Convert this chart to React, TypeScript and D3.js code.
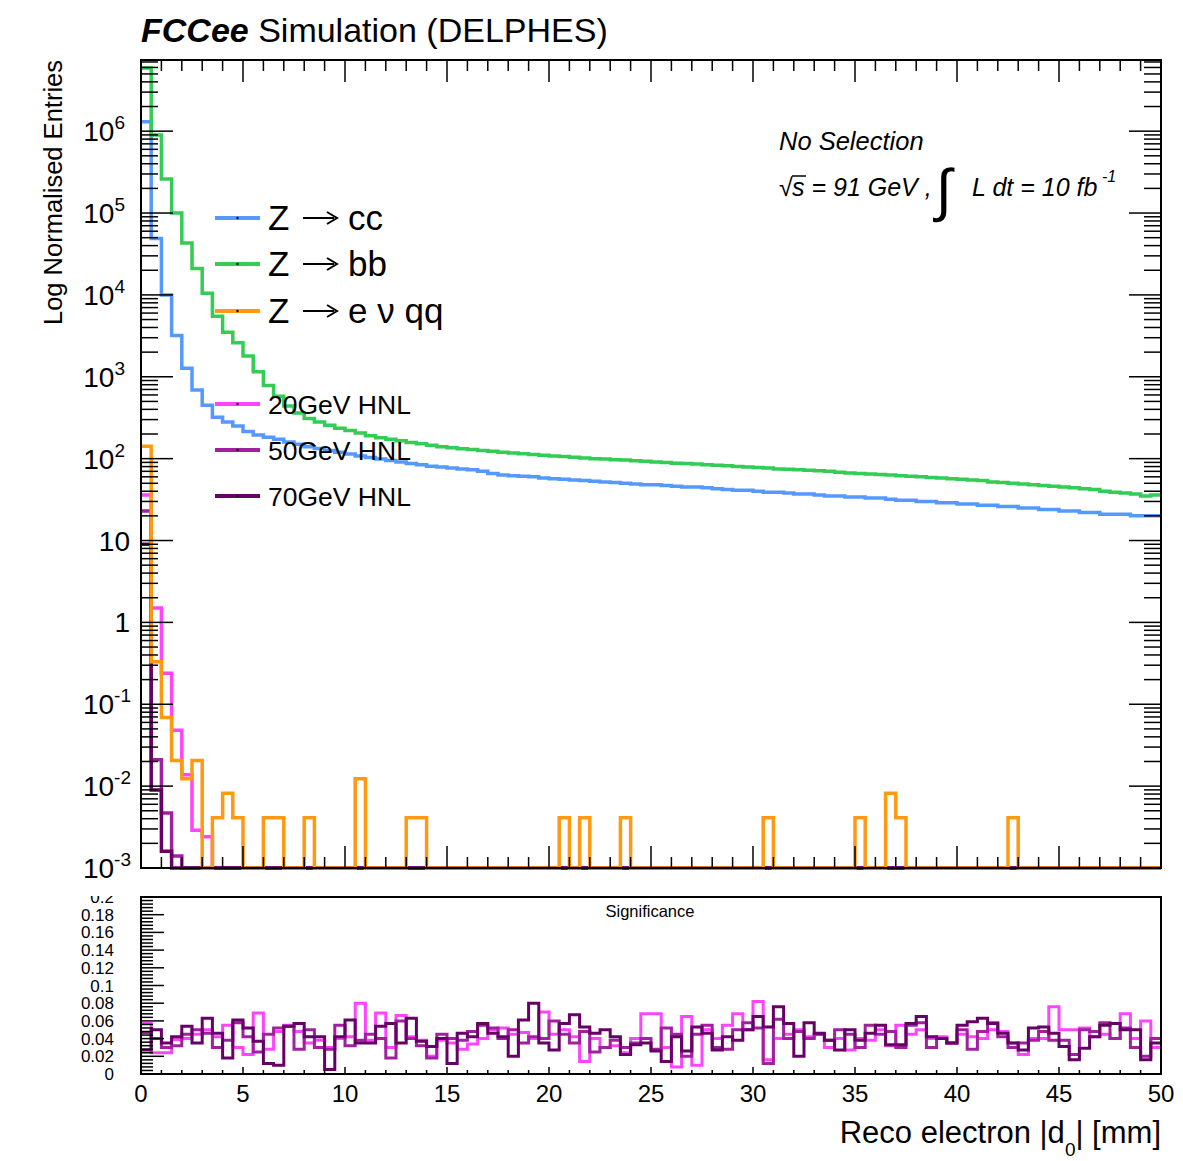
import React from "react";
import * as d3 from "d3";

// bin width 0.5 mm, 100 bins from 0 to 50 mm
const binWidth = 0.5;

const zcc = [
  1.3e6, 4.9e4, 1.0e4, 3200, 1270, 690, 450, 320, 280, 250,
  215, 195, 182, 172, 160, 150, 140, 133, 126, 120,
  114, 108, 103, 99, 95, 91, 87, 84, 81, 79,
  77, 75, 73, 70, 66, 63, 62, 61, 60, 58,
  57, 56, 55, 54, 53, 52, 51, 50, 49, 48,
  48, 47, 46, 45, 45, 44, 43, 42, 41, 41,
  40, 39, 39, 38, 37, 37, 36, 35, 35, 34,
  34, 33, 33, 32, 31, 31, 30, 30, 29, 29,
  28, 28, 27, 27, 26, 26, 25, 25, 24, 24,
  23, 23, 22, 22, 21, 21, 21, 20, 20, 20,
];

const zbb = [
  5.9e6, 9.0e5, 2.6e5, 1.0e5, 4.3e4, 2.1e4, 1.05e4, 5500, 3500, 2600,
  1800, 1150, 780, 580, 440, 360, 310, 280, 255, 235,
  220, 205, 190, 180, 172, 165, 158, 152, 146, 140,
  136, 132, 129, 126, 123, 120, 117, 115, 112, 110,
  108, 106, 104, 102, 100, 99, 97, 96, 94, 93,
  91, 90, 88, 87, 86, 84, 83, 82, 80, 79,
  78, 77, 75, 74, 73, 72, 71, 70, 68, 67,
  66, 65, 64, 63, 62, 61, 60, 59, 58, 57,
  56, 55, 54, 52, 51, 50, 49, 48, 47, 46,
  45, 44, 43, 42, 40, 39, 38, 37, 35, 36,
];

const zenuqq = [
  142, 0.33, 0.069, 0.0205, 0.0123, 0.0205, 0, 0.0041, 0.0082, 0.0041,
  0, 0, 0.0041, 0.0041, 0, 0, 0.0041, 0, 0, 0,
  0, 0.0123, 0, 0, 0, 0, 0.0041, 0.0041, 0, 0,
  0, 0, 0, 0, 0, 0, 0, 0, 0, 0,
  0, 0.0041, 0, 0.0041, 0, 0, 0, 0.0041, 0, 0,
  0, 0, 0, 0, 0, 0, 0, 0, 0, 0,
  0, 0.0041, 0, 0, 0, 0, 0, 0, 0, 0,
  0.0041, 0, 0, 0.0082, 0.0041, 0, 0, 0, 0, 0,
  0, 0, 0, 0, 0, 0.0041, 0, 0, 0, 0,
  0, 0, 0, 0, 0, 0, 0, 0, 0, 0,
];

const hnl20 = [
  36, 1.5, 0.24, 0.048, 0.0138, 0.0029, 0.0024, 0, 0, 0,
  0, 0, 0, 0, 0, 0, 0, 0, 0, 0,
  0, 0, 0, 0, 0, 0, 0, 0, 0, 0,
  0, 0, 0, 0, 0, 0, 0, 0, 0, 0,
  0, 0, 0, 0, 0, 0, 0, 0, 0, 0,
  0, 0, 0, 0, 0, 0, 0, 0, 0, 0,
  0, 0, 0, 0, 0, 0, 0, 0, 0, 0,
  0, 0, 0, 0, 0, 0, 0, 0, 0, 0,
  0, 0, 0, 0, 0, 0, 0, 0, 0, 0,
  0, 0, 0, 0, 0, 0, 0, 0, 0, 0,
];

const hnl50 = [
  23, 0.021, 0.0047, 0.0014, 0, 0, 0, 0, 0, 0,
  0, 0, 0, 0, 0, 0, 0, 0, 0, 0,
  0, 0, 0, 0, 0, 0, 0, 0, 0, 0,
  0, 0, 0, 0, 0, 0, 0, 0, 0, 0,
  0, 0, 0, 0, 0, 0, 0, 0, 0, 0,
  0, 0, 0, 0, 0, 0, 0, 0, 0, 0,
  0, 0, 0, 0, 0, 0, 0, 0, 0, 0,
  0, 0, 0, 0, 0, 0, 0, 0, 0, 0,
  0, 0, 0, 0, 0, 0, 0, 0, 0, 0,
  0, 0, 0, 0, 0, 0, 0, 0, 0, 0,
];

const hnl70 = [
  9, 0.009, 0.0016, 0, 0, 0, 0, 0, 0, 0,
  0, 0, 0, 0, 0, 0, 0, 0, 0, 0,
  0, 0, 0, 0, 0, 0, 0, 0, 0, 0,
  0, 0, 0, 0, 0, 0, 0, 0, 0, 0,
  0, 0, 0, 0, 0, 0, 0, 0, 0, 0,
  0, 0, 0, 0, 0, 0, 0, 0, 0, 0,
  0, 0, 0, 0, 0, 0, 0, 0, 0, 0,
  0, 0, 0, 0, 0, 0, 0, 0, 0, 0,
  0, 0, 0, 0, 0, 0, 0, 0, 0, 0,
  0, 0, 0, 0, 0, 0, 0, 0, 0, 0,
];

// significance (lower pad)
const sig20 = [
  0.057, 0.024, 0.024, 0.039, 0.040, 0.045, 0.050, 0.042, 0.055, 0.030,
  0.022, 0.069, 0.028, 0.048, 0.055, 0.048, 0.035, 0.038, 0.030, 0.040,
  0.042, 0.080, 0.038, 0.069, 0.030, 0.066, 0.042, 0.038, 0.020, 0.038,
  0.035, 0.028, 0.034, 0.040, 0.050, 0.052, 0.045, 0.047, 0.040, 0.070,
  0.045, 0.050, 0.042, 0.014, 0.040, 0.030, 0.032, 0.024, 0.040, 0.068,
  0.068, 0.030, 0.008, 0.065, 0.010, 0.050, 0.040, 0.055, 0.068, 0.050,
  0.082, 0.016, 0.040, 0.045, 0.050, 0.042, 0.045, 0.030, 0.040, 0.027,
  0.040, 0.038, 0.050, 0.032, 0.055, 0.045, 0.050, 0.040, 0.042, 0.035,
  0.045, 0.042, 0.040, 0.050, 0.048, 0.035, 0.022, 0.040, 0.040, 0.076,
  0.050, 0.050, 0.052, 0.042, 0.045, 0.040, 0.068, 0.040, 0.060, 0.030,
];

const sig50 = [
  0.047, 0.040, 0.030, 0.032, 0.045, 0.050, 0.046, 0.030, 0.038, 0.058,
  0.042, 0.025, 0.045, 0.052, 0.054, 0.028, 0.050, 0.030, 0.028, 0.055,
  0.032, 0.038, 0.045, 0.040, 0.018, 0.060, 0.040, 0.032, 0.018, 0.045,
  0.040, 0.038, 0.048, 0.055, 0.052, 0.040, 0.050, 0.035, 0.042, 0.040,
  0.060, 0.045, 0.035, 0.048, 0.025, 0.030, 0.038, 0.030, 0.035, 0.040,
  0.028, 0.052, 0.045, 0.020, 0.045, 0.055, 0.030, 0.028, 0.050, 0.058,
  0.052, 0.012, 0.062, 0.040, 0.048, 0.040, 0.045, 0.038, 0.050, 0.045,
  0.030, 0.055, 0.045, 0.048, 0.030, 0.055, 0.058, 0.030, 0.040, 0.035,
  0.050, 0.028, 0.048, 0.058, 0.042, 0.030, 0.035, 0.038, 0.048, 0.038,
  0.038, 0.022, 0.050, 0.048, 0.058, 0.040, 0.052, 0.030, 0.020, 0.040,
];

const sig70 = [
  0.027, 0.050, 0.035, 0.042, 0.054, 0.035, 0.063, 0.046, 0.018, 0.061,
  0.052, 0.037, 0.012, 0.010, 0.054, 0.057, 0.042, 0.042, 0.005, 0.042,
  0.061, 0.035, 0.035, 0.054, 0.057, 0.035, 0.063, 0.037, 0.031, 0.040,
  0.012, 0.046, 0.042, 0.057, 0.046, 0.042, 0.020, 0.061, 0.080, 0.035,
  0.027, 0.057, 0.067, 0.053, 0.046, 0.050, 0.042, 0.022, 0.033, 0.035,
  0.026, 0.014, 0.042, 0.026, 0.053, 0.046, 0.027, 0.042, 0.038, 0.050,
  0.065, 0.053, 0.076, 0.057, 0.020, 0.058, 0.046, 0.038, 0.027, 0.050,
  0.038, 0.046, 0.055, 0.033, 0.033, 0.057, 0.065, 0.042, 0.040, 0.035,
  0.055, 0.059, 0.063, 0.057, 0.046, 0.035, 0.027, 0.052, 0.053, 0.046,
  0.031, 0.016, 0.029, 0.042, 0.055, 0.057, 0.050, 0.050, 0.016, 0.035,
];

const xTicks = [0, 5, 10, 15, 20, 25, 30, 35, 40, 45, 50];
const decades = [-3, -2, -1, 0, 1, 2, 3, 4, 5, 6];
const sigTicks = [0, 0.02, 0.04, 0.06, 0.08, 0.1, 0.12, 0.14, 0.16, 0.18, 0.2];

const colors = {
  cc: "#5599ff",
  bb: "#33cc55",
  enuqq: "#ff9911",
  h20: "#ff44ff",
  h50: "#a020a0",
  h70: "#660066",
};

const font = "'Liberation Sans', Arial, Helvetica, sans-serif";

const L = 141, R = 1161;
const mainTop = 60, mainBot = 868;
const botTop = 897, botBot = 1074;

const x = d3.scaleLinear().domain([0, 50]).range([L, R]);
const yMain = d3.scaleLog().domain([1e-3, 7.4e6]).range([mainBot, mainTop]).clamp(true);
const yBot = d3.scaleLinear().domain([0, 0.2]).range([botBot, botTop]);

function stepPath(vals: number[], y: (v: number) => number) {
  let d = `M${x(0)},${y(vals[0])}`;
  vals.forEach((v, i) => {
    if (i > 0) d += `V${y(v)}`;
    d += `H${x((i + 1) * binWidth)}`;
  });
  return d;
}

const yLog = (v: number) => yMain(Math.max(v, 1e-3));

export default function App() {
  const minorX: number[] = [];
  for (let i = 0; i <= 50; i++) if (i % 5 !== 0) minorX.push(i);

  const minorLog: number[] = [];
  decades.forEach((k) => {
    for (let m = 2; m <= 9; m++) {
      const v = m * Math.pow(10, k);
      if (v <= 7.4e6) minorLog.push(v);
    }
  });

  const sigMinor: number[] = [];
  for (let i = 0; i < 50; i++) if (i % 5 !== 0) sigMinor.push(i * 0.004);

  const mainSeries = [
    { vals: zcc, c: colors.cc },
    { vals: zbb, c: colors.bb },
    { vals: hnl20, c: colors.h20 },
    { vals: hnl50, c: colors.h50 },
    { vals: hnl70, c: colors.h70 },
    { vals: zenuqq, c: colors.enuqq },
  ];

  const legendTop = [
    { rest: "cc", c: colors.cc, y: 218 },
    { rest: "bb", c: colors.bb, y: 264 },
    { rest: "e \u03bd qq", c: colors.enuqq, y: 311 },
  ];
  const legendHnl = [
    { label: "20GeV HNL", c: colors.h20, y: 404 },
    { label: "50GeV HNL", c: colors.h50, y: 450 },
    { label: "70GeV HNL", c: colors.h70, y: 496 },
  ];

  return (
    <svg
      width={1183}
      height={1161}
      style={{ position: "absolute", left: 0, top: 0, background: "#fff", fontFamily: font }}
    >
      <defs>
        <clipPath id="mainClip">
          <rect x={L} y={mainTop} width={R - L} height={mainBot - mainTop + 2} />
        </clipPath>
        <clipPath id="botPad">
          <rect x={0} y={896} width={1183} height={265} />
        </clipPath>
      </defs>

      {/* title */}
      <text x={L} y={42} fontSize={34}>
        <tspan fontWeight="bold" fontStyle="italic">FCCee</tspan>
        <tspan> Simulation (DELPHES)</tspan>
      </text>

      {/* histograms */}
      <g clipPath="url(#mainClip)" fill="none" strokeWidth={3.5}>
        {mainSeries.map((s, i) => (
          <path key={i} d={stepPath(s.vals, yLog)} stroke={s.c} />
        ))}
      </g>

      {/* main frame */}
      <rect x={L} y={mainTop} width={R - L} height={mainBot - mainTop} fill="none" stroke="#000" strokeWidth={2} />

      {/* ticks, main pad */}
      <g stroke="#000" strokeWidth={1.5}>
        {xTicks.map((t) => (
          <g key={t}>
            <line x1={x(t)} x2={x(t)} y1={mainBot} y2={mainBot - 22} />
            <line x1={x(t)} x2={x(t)} y1={mainTop} y2={mainTop + 22} />
          </g>
        ))}
        {minorX.map((t) => (
          <g key={t}>
            <line x1={x(t)} x2={x(t)} y1={mainBot} y2={mainBot - 11} />
            <line x1={x(t)} x2={x(t)} y1={mainTop} y2={mainTop + 11} />
          </g>
        ))}
        {decades.map((k) => {
          const yy = yMain(Math.pow(10, k));
          return (
            <g key={k}>
              <line x1={L} x2={L + 32} y1={yy} y2={yy} />
              <line x1={R} x2={R - 32} y1={yy} y2={yy} />
            </g>
          );
        })}
        {minorLog.map((v, i) => {
          const yy = yMain(v);
          return (
            <g key={i}>
              <line x1={L} x2={L + 17} y1={yy} y2={yy} />
              <line x1={R} x2={R - 17} y1={yy} y2={yy} />
            </g>
          );
        })}
      </g>

      {/* log y labels */}
      {decades.map((k) => {
        const yy = yMain(Math.pow(10, k)) + 10;
        if (k === 0)
          return (
            <text key={k} x={130} y={yy} fontSize={28} textAnchor="end">1</text>
          );
        if (k === 1)
          return (
            <text key={k} x={130} y={yy} fontSize={28} textAnchor="end">10</text>
          );
        return (
          <text key={k} x={k < 0 ? 131 : 125} y={yy} fontSize={28} textAnchor="end">
            10<tspan dy={-12} fontSize={19}>{k}</tspan>
          </text>
        );
      })}

      <text transform={`translate(62,${mainTop}) rotate(-90)`} fontSize={25.5} textAnchor="end">
        Log Normalised Entries
      </text>

      {/* annotation */}
      <text x={779} y={150} fontSize={25.5} fontStyle="italic">No Selection</text>
      <g fontStyle="italic" fontSize={25}>
        <text x={779} y={196}>{"\u221a"}</text>
        <line x1={792} x2={806} y1={176} y2={176} stroke="#000" strokeWidth={1.5} />
        <text x={792} y={196}>s = 91 GeV ,</text>
        <text x={936} y={210} fontSize={58} fontStyle="normal">{"\u222b"}</text>
        <text x={972} y={196}>L dt = 10 fb</text>
        <text x={1102} y={182} fontSize={16}>-1</text>
      </g>

      {/* legends */}
      {legendTop.map((e) => (
        <g key={e.rest}>
          <line x1={215} x2={260} y1={e.y} y2={e.y} stroke={e.c} strokeWidth={4} />
          <circle cx={237.5} cy={e.y} r={1.2} fill="#000" />
          <text x={268} y={e.y + 12} fontSize={35}>Z</text>
          <line x1={303} x2={334} y1={e.y} y2={e.y} stroke="#000" strokeWidth={2} />
          <path d={`M${327},${e.y - 6}L${337},${e.y}L${327},${e.y + 6}`} fill="none" stroke="#000" strokeWidth={2} />
          <text x={348} y={e.y + 12} fontSize={35}>{e.rest}</text>
        </g>
      ))}
      {legendHnl.map((e) => (
        <g key={e.label}>
          <line x1={215} x2={260} y1={e.y} y2={e.y} stroke={e.c} strokeWidth={4} />
          <circle cx={237.5} cy={e.y} r={1.2} fill="#000" />
          <text x={268} y={e.y + 10} fontSize={26.5}>{e.label}</text>
        </g>
      ))}

      {/* lower pad */}
      <g clipPath="url(#botPad)">
        <g fill="none" strokeWidth={3}>
          <path d={stepPath(sig20, yBot)} stroke={colors.h20} />
          <path d={stepPath(sig50, yBot)} stroke={colors.h50} />
          <path d={stepPath(sig70, yBot)} stroke={colors.h70} />
        </g>
        <rect x={L} y={botTop} width={R - L} height={botBot - botTop} fill="none" stroke="#000" strokeWidth={2} />
        <text x={650} y={917} fontSize={16.5} textAnchor="middle">Significance</text>
        <g stroke="#000" strokeWidth={1.5}>
          {sigTicks.map((t) => (
            <line key={t} x1={L} x2={L + 23} y1={yBot(t)} y2={yBot(t)} />
          ))}
          {sigMinor.map((t, i) => (
            <line key={i} x1={L} x2={L + 12} y1={yBot(t)} y2={yBot(t)} />
          ))}
          {xTicks.map((t) => (
            <line key={t} x1={x(t)} x2={x(t)} y1={botBot} y2={botBot - 7} />
          ))}
          {minorX.map((t) => (
            <line key={t} x1={x(t)} x2={x(t)} y1={botBot} y2={botBot - 4} />
          ))}
        </g>
        {sigTicks.map((t) => (
          <text key={t} x={114} y={yBot(t) + 6} fontSize={17} textAnchor="end">
            {t === 0 ? "0" : d3.format(".2~f")(t)}
          </text>
        ))}
      </g>

      {xTicks.map((t) => (
        <text key={t} x={x(t)} y={1102} fontSize={24} textAnchor="middle">{t}</text>
      ))}

      <text x={R} y={1143} fontSize={31} textAnchor="end">
        Reco electron |d<tspan dy={13} fontSize={19}>0</tspan><tspan dy={-13}>| [mm]</tspan>
      </text>
    </svg>
  );
}
